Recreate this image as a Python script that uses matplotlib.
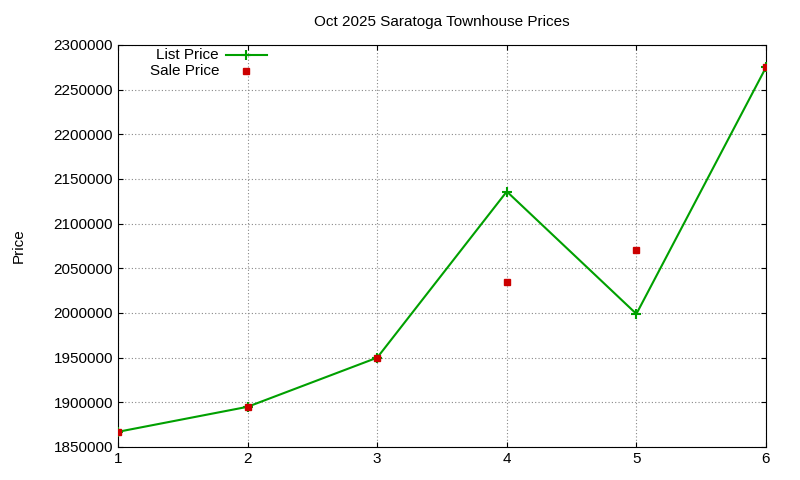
import matplotlib
matplotlib.use("Agg")
import matplotlib.pyplot as plt
plt.rcParams['font.family'] = ['Liberation Sans', 'DejaVu Sans']

x = [1, 2, 3, 4, 5, 6]
list_price = [1867000, 1895000, 1950000, 2136000, 1999000, 2275000]
sale_price = [1867000, 1895000, 1950000, 2035000, 2070000, 2275000]

fig = plt.figure(figsize=(8, 4.8), dpi=100)
ax = fig.add_axes([118/800, 1-447/480, (766-118)/800, (447-45)/480])
ax.plot(x, list_price, color="#00a000", lw=1.5, marker="+", ms=7, mew=1.5, zorder=3)
ax.plot(x, sale_price, ls="none", marker="s", ms=5, color="#cc0000", zorder=4)
ax.set_xlim(1, 6)
ax.set_ylim(1850000, 2300000)
ax.set_yticks(range(1850000, 2300001, 50000))
ax.set_yticklabels([str(v) for v in range(1850000, 2300001, 50000)])
ax.grid(True, ls=(0, (1, 2)), color="#888888", lw=0.8)
ax.tick_params(direction="in", labelsize=11, top=True, right=True)
ax.set_ylabel("Price", fontsize=11, labelpad=20)
ax.set_title("Oct 2025 Saratoga Townhouse Prices", fontsize=11, pad=14)
ly1, ly2 = 2288500, 2271000
ax.text(1.78, ly1, "List Price", ha="right", va="center", fontsize=11)
ax.plot([1.83, 2.15], [ly1, ly1], color="#00a000", lw=1.5)
ax.plot([1.99], [ly1], marker="+", color="#00a000", ms=7, mew=1.5)
ax.text(1.78, ly2, "Sale Price", ha="right", va="center", fontsize=11)
ax.plot([1.99], [ly2], marker="s", ms=5, color="#cc0000", ls="none")
fig.savefig("out.png", dpi=100)
